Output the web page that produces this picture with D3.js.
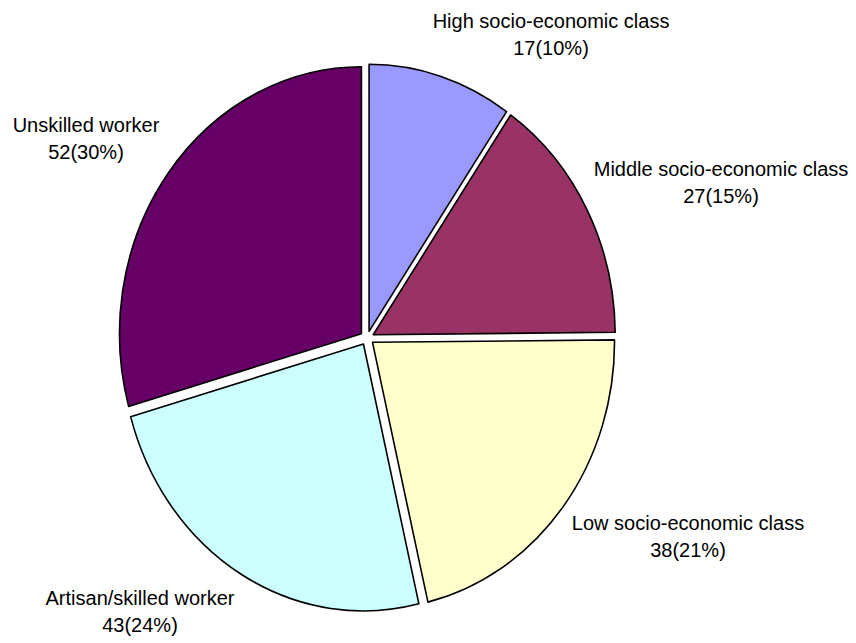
<!DOCTYPE html>
<html>
    <head>
        <meta charset="utf-8">
        <style>
          body { margin: 0; background: #fff; }
          text { font-family: Arial, "Liberation Sans", sans-serif; font-size: 20px; fill: #000; }
        </style>
    </head>
    <body>
        <script src="https://d3js.org/d3.v7.min.js"></script>
        <script>
          // values
          const categories = ['High socio-economic class', 'Middle socio-economic class', 'Low socio-economic class', 'Artisan/skilled worker', 'Unskilled worker'];
          const counts = [17, 27, 38, 43, 52];
          const percents = ['10%', '15%', '21%', '24%', '30%'];
          const colors = ['#9999ff', '#993366', '#ffffcc', '#ccffff', '#660066'];

          // label anchor points (first line baseline, centre)
          const labelPos = [[551, 28], [721, 176], [688, 530], [140, 605], [86, 132]];

          function makeChart() {
            const width = 856, height = 643;
            const cx = 367, cy = 338;
            const rx = 242, ry = 267;
            const explode = 7;

            const data = categories.map((c, i) => ({ name: c, value: counts[i], pct: percents[i] }));

            const svg = d3.select('body').append('svg')
              .attr('width', width)
              .attr('height', height);

            const pie = d3.pie()
              .sort(null)
              .value(d => d.value)(data);

            const arc = d3.arc()
              .innerRadius(0)
              .outerRadius(1);

            svg.append('g')
              .selectAll('path')
              .data(pie)
              .join('path')
              .attr('d', arc)
              .attr('transform', d => {
                const a = (d.startAngle + d.endAngle) / 2;
                const x = cx + explode * Math.sin(a);
                const y = cy - explode * Math.cos(a);
                return `translate(${x},${y}) scale(${rx},${ry})`;
              })
              .attr('fill', (d, i) => colors[i])
              .attr('stroke', '#000')
              .attr('stroke-width', 1.6)
              .attr('stroke-linejoin', 'round')
              .attr('vector-effect', 'non-scaling-stroke');

            const labels = svg.append('g')
              .selectAll('text')
              .data(data)
              .join('text')
              .attr('text-anchor', 'middle')
              .attr('transform', (d, i) => `translate(${labelPos[i][0]},${labelPos[i][1]})`);

            labels.append('tspan')
              .attr('x', 0)
              .attr('y', 0)
              .text(d => d.name);

            labels.append('tspan')
              .attr('x', 0)
              .attr('y', 27)
              .text(d => `${d.value}(${d.pct})`);
          }

          makeChart();
        </script>
    </body>
</html>
